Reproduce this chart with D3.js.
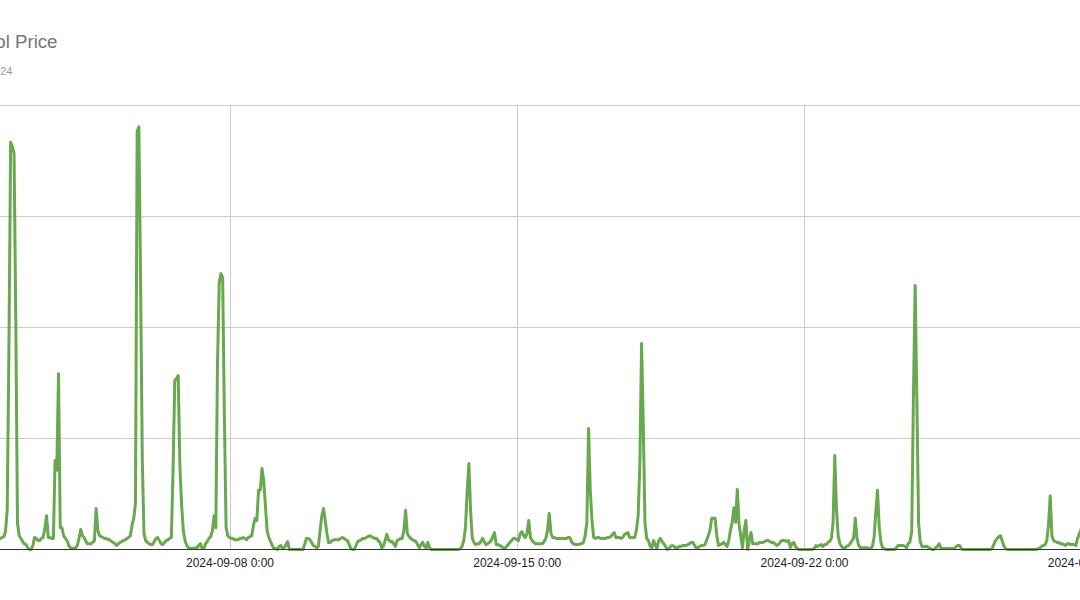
<!DOCTYPE html>
<html>
<head>
<meta charset="utf-8">
<script src="https://cdn.jsdelivr.net/npm/d3@7"></script>
<style>
  html, body { margin: 0; padding: 0; background: #fff; overflow: hidden; }
  svg { display: block; font-family: Arial, "Liberation Sans", sans-serif; }
</style>
</head>
<body>
<svg id="chart" width="1080" height="600"></svg>
<script>
// ---- Data ----
const titleText = "Pool Price";
const subtitleText = "September 2024";
const startTime = "2024-09-02T08:00:00Z"; // first hourly reading
// Hourly pool price ($/MWh), one row per day
const prices = [
  20,22,25,27,29,40,90,450,915,905,890,520,60,31,25,18,
  13,11,4,0,0,9,27,25,20,20,25,27,47,76,27,27,25,25,200,178,395,49,49,31,
  25,20,9,4,2,2,4,9,25,45,31,27,18,13,13,13,16,20,92,43,31,29,27,25,
  25,22,22,18,16,13,9,13,16,18,20,22,25,27,31,54,70,103,940,950,600,200,35,20,
  16,13,11,11,18,25,27,20,13,11,16,20,22,25,27,180,380,384,391,185,99,43,20,9,
  4,2,2,2,4,4,9,13,2,2,13,18,25,29,43,76,49,420,600,620,611,300,50,31,
  27,25,25,22,22,22,25,25,27,25,22,27,29,31,54,70,65,133,133,182,155,99,43,27,
  18,9,2,2,0,7,9,2,4,11,18,0,0,0,0,0,0,0,0,0,12,25,25,22,
  16,9,7,4,7,43,76,92,65,35,15,16,20,22,22,22,22,25,27,25,22,20,11,2,
  0,0,9,18,20,22,25,25,27,29,31,29,27,25,25,20,16,4,7,20,34,22,18,18,
  13,7,20,22,25,25,43,88,36,29,25,22,20,18,11,4,11,16,7,4,16,4,0,0,
  0,0,0,0,0,0,0,0,0,0,0,0,0,0,0,2,7,20,49,130,193,88,25,16,
  11,13,13,18,25,18,11,13,16,20,29,38,11,11,9,7,4,2,7,11,16,20,25,25,
  22,20,36,40,31,27,36,65,27,20,16,13,13,13,13,13,18,25,43,81,36,27,27,25,
  25,25,25,25,25,25,27,27,18,13,11,11,11,13,13,16,31,60,272,133,65,27,25,27,
  27,25,25,25,25,27,27,29,34,38,27,27,27,25,27,34,36,38,27,27,27,27,43,76,
  190,463,280,60,25,20,7,4,20,11,2,20,25,18,13,7,0,2,7,9,7,4,4,7,
  7,9,9,9,11,13,16,16,9,4,4,7,9,9,11,20,31,43,70,70,70,31,9,11,
  13,16,11,7,20,43,61,94,61,135,58,31,4,43,65,0,20,38,13,13,13,13,16,16,
  16,18,20,20,18,16,16,13,9,11,16,20,20,20,18,20,4,13,16,7,2,0,0,0,
  0,0,0,0,0,0,2,9,7,9,11,7,11,11,16,18,25,60,211,90,30,13,7,2,
  4,7,9,13,20,25,70,25,9,4,4,4,4,4,2,2,7,27,85,133,50,16,4,2,
  0,0,0,0,0,0,4,9,9,9,9,7,4,13,18,40,340,593,340,60,18,7,7,7,
  7,4,2,0,0,4,7,13,4,2,2,2,2,2,2,2,2,7,9,9,2,0,0,0,
  0,0,0,0,0,0,0,0,0,0,0,0,0,0,2,11,20,25,29,31,18,7,2,0,
  0,0,0,0,0,0,0,0,0,0,0,0,0,0,0,0,0,2,4,7,9,11,20,55,
  121,30,20,18,16,16,13,13,11,9,13,13,11,11,11,9,25,35,45,30,25
];
const xTickDates = ["2024-09-08", "2024-09-15", "2024-09-22", "2024-09-29"];
const xTickLabels = ["2024-09-08 0:00", "2024-09-15 0:00", "2024-09-22 0:00", "2024-09-29 0:00"];
const yTicks = [0, 250, 500, 750, 1000];

// ---- Layout ----
const svg = d3.select("#chart");
const W = 1080;
const plotTop = 104.5, plotBottom = 549.5;
const lineColor = "#6aa84f";

const t0 = new Date(startTime).getTime();
const data = prices.map((v, i) => ({ t: new Date(t0 + i * 3600e3), v }));

const x = d3.scaleUtc()
  .domain([new Date("2024-09-08T00:00:00Z"), new Date("2024-09-22T00:00:00Z")])
  .range([229.5, 804]);
const y = d3.scaleLinear().domain([0, 1000]).range([plotBottom, plotTop]);

const tickDates = xTickDates.map(d => new Date(d + "T00:00:00Z"));

// Horizontal gridlines
svg.append("g").selectAll("line")
  .data(yTicks.filter(d => d > 0))
  .join("line")
  .attr("x1", 0).attr("x2", W)
  .attr("y1", d => Math.round(y(d)) + 0.5).attr("y2", d => Math.round(y(d)) + 0.5)
  .attr("stroke", "#cccccc").attr("stroke-width", 1);

// Vertical gridlines
svg.append("g").selectAll("line")
  .data(tickDates)
  .join("line")
  .attr("x1", d => Math.round(x(d)) + 0.5).attr("x2", d => Math.round(x(d)) + 0.5)
  .attr("y1", plotTop).attr("y2", plotBottom)
  .attr("stroke", "#cccccc").attr("stroke-width", 1);

// Line
const line = d3.line().x(d => x(d.t)).y(d => y(d.v));
svg.append("path")
  .datum(data)
  .attr("d", line)
  .attr("fill", "none")
  .attr("stroke", lineColor)
  .attr("stroke-width", 3)
  .attr("stroke-linejoin", "round");

// Baseline
svg.append("line")
  .attr("x1", 0).attr("x2", W)
  .attr("y1", plotBottom).attr("y2", plotBottom)
  .attr("stroke", "#333333").attr("stroke-width", 1);

// X axis labels
const xAxis = d3.axisBottom(x)
  .tickValues(tickDates)
  .tickFormat((d, i) => xTickLabels[i])
  .tickSize(0)
  .tickPadding(0);
const gx = svg.append("g").attr("transform", `translate(0,${plotBottom})`).call(xAxis);
gx.select(".domain").remove();
gx.selectAll("text")
  .attr("y", 17.5).attr("dy", null)
  .attr("font-size", 12)
  .attr("font-family", "Arial, 'Liberation Sans', sans-serif")
  .attr("fill", "#222222");

// Title & subtitle (left part lies outside the visible frame, as in the reference)
svg.append("text")
  .attr("x", 57.5).attr("y", 48)
  .attr("text-anchor", "end")
  .attr("font-size", 18.67)
  .attr("fill", "#757575")
  .text(titleText);
svg.append("text")
  .attr("x", 12.5).attr("y", 74.5)
  .attr("text-anchor", "end")
  .attr("font-size", 11)
  .attr("fill", "#999999")
  .text(subtitleText);
</script>
</body>
</html>
